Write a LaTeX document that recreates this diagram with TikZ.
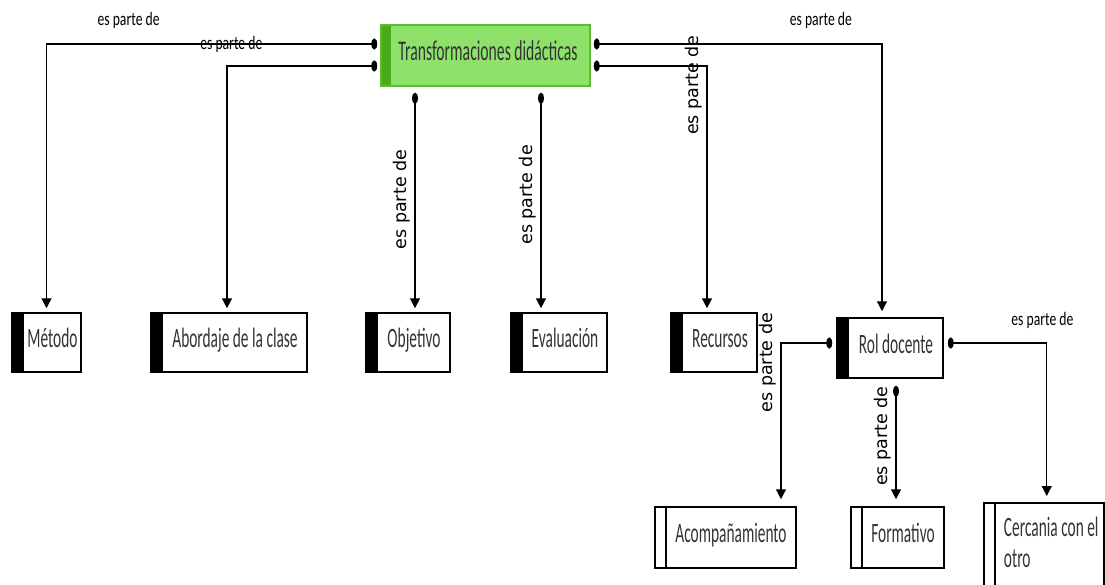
\documentclass[tikz,border=0pt]{standalone}
\usepackage{fontspec}
\setmainfont{Carlito}
\newfontfamily\boxfont{Carlito}[FakeStretch=0.55]
\newfontfamily\lblfont{Carlito}[FakeStretch=0.72]
\newfontfamily\vertfont{DejaVu Sans}
\usepackage{xcolor}
\usetikzlibrary{arrows.meta}

\definecolor{leafgreen}{HTML}{8EE26B}
\definecolor{bargreen}{HTML}{4BA91C}
\definecolor{edgegreen}{HTML}{5DBB2E}
\definecolor{boxtext}{HTML}{333333}

\begin{document}
\begin{tikzpicture}[x=1pt,y=-1pt,
    every node/.style={font=\boxfont\fontsize{28}{31}\selectfont, text=boxtext},
    single/.style={text height=19pt, text depth=9pt},
    root/.style={draw=edgegreen, line width=1.5pt, fill=leafgreen, single,
        minimum width=209pt, minimum height=61pt,
        path picture={\fill[bargreen] (path picture bounding box.south west)
            rectangle ([xshift=10pt]path picture bounding box.north west);}},
    topic/.style={draw, line width=1.5pt, minimum height=59pt, single,
        path picture={\fill (path picture bounding box.south west)
            rectangle ([xshift=12pt]path picture bounding box.north west);},
        execute at begin node=\hspace*{12pt}},
    subtopic/.style={draw, line width=1.5pt, minimum height=61pt,
        path picture={\draw[line width=1.5pt] ([xshift=11pt]path picture bounding box.south west)
            -- ([xshift=11pt]path picture bounding box.north west);},
        execute at begin node=\hspace*{11pt}},
    ArrH/.style={{Circle[length=6pt,width=11pt]}-{Triangle[length=10pt,width=10pt]}, line width=1.3pt, black},
    ArrV/.style={{Circle[length=11pt,width=6pt]}-{Triangle[length=10pt,width=10pt]}, line width=1.3pt, black},
    lbl/.style={font=\lblfont\fontsize{19}{22}\selectfont, text=black},
    vlbl/.style={font=\vertfont\fontsize{17.5}{20}\selectfont, text=black,
        rotate=90, anchor=south, inner sep=4pt},
]
\useasboundingbox (0,0) rectangle (1105,585);
\clip (0,0) rectangle (1105,585);

% concepto central
\node[root, font=\boxfont\fontsize{28.5}{31}\selectfont] (trans) at (485.5,55.5)
    {\hspace*{5pt}Transformaciones didácticas};

% primer nivel
\node[topic, minimum width=67pt]  (metodo)     at (46.5,342.5) {Método};
\node[topic, minimum width=156pt] (abordaje)   at (229,342.5)  {Abordaje de la clase};
\node[topic, minimum width=84pt]  (objetivo)   at (408,342.5)  {Objetivo};
\node[topic, minimum width=96pt]  (evaluacion) at (559,342.5)  {Evaluación};
\node[topic, minimum width=86pt]  (recursos)   at (714,342.5)  {Recursos};
\node[topic, minimum width=106pt, minimum height=60pt] (rol) at (890,348) {Rol docente};

% segundo nivel
\node[subtopic, single, minimum width=141pt] (acomp)     at (725.5,537.5) {Acompañamiento};
\node[subtopic, single, minimum width=93pt]  (formativo) at (897.5,537.5) {Formativo};
\node[subtopic, anchor=north west, execute at begin node={}, align=left,
      minimum width=120pt, minimum height=120pt] (cercania) at (983,502)
      {\hspace*{4pt}Cercania con el\\\hspace*{4pt}otro\\\strut};

% conectores
\draw[ArrH, shorten <=3pt, shorten >=4pt] ([yshift=11.5pt]trans.west) -| (metodo.north)
    node[lbl, pos=.377, yshift=24pt] {es parte de};
\draw[ArrH, shorten <=3pt, shorten >=4pt] ([yshift=-10.5pt]trans.west) -| ([xshift=-2pt]abordaje.north)
    node[lbl, pos=.486, yshift=22pt] {es parte de};
\draw[ArrV, shorten <=6pt, shorten >=4pt] ([xshift=-70.5pt]trans.south)
    -- ([xshift=-70.5pt]trans.south |- objetivo.north)
    node[vlbl, pos=.5] {es parte de};
\draw[ArrV, shorten <=6pt, shorten >=4pt] ([xshift=55.5pt]trans.south)
    -- ([xshift=55.5pt]trans.south |- evaluacion.north)
    node[vlbl, pos=.48] {es parte de};
\draw[ArrH, shorten <=3pt, shorten >=4pt] ([yshift=-10.5pt]trans.east) -| ([xshift=-7pt]recursos.north)
    node[vlbl, pos=.539] {es parte de};
\draw[ArrH, shorten <=3pt, shorten >=6pt] ([yshift=11.5pt]trans.east) -| ([xshift=-8pt]rol.north)
    node[lbl, pos=.395, yshift=24pt] {es parte de};
\draw[ArrH, shorten <=4pt, shorten >=7pt] ([yshift=5pt]rol.west) -| ([xshift=55.5pt]acomp.north)
    node[vlbl, pos=.56] {es parte de};
\draw[ArrV, shorten <=7pt, shorten >=7pt] ([xshift=6pt]rol.south)
    -- ([xshift=6pt]rol.south |- formativo.north)
    node[vlbl, pos=.45] {es parte de};
\draw[ArrH, shorten <=4pt, shorten >=6pt] ([yshift=5pt]rol.east) -| ([xshift=3pt]cercania.north)
    node[lbl, pos=.479, yshift=23pt] {es parte de};

\end{tikzpicture}
\end{document}
